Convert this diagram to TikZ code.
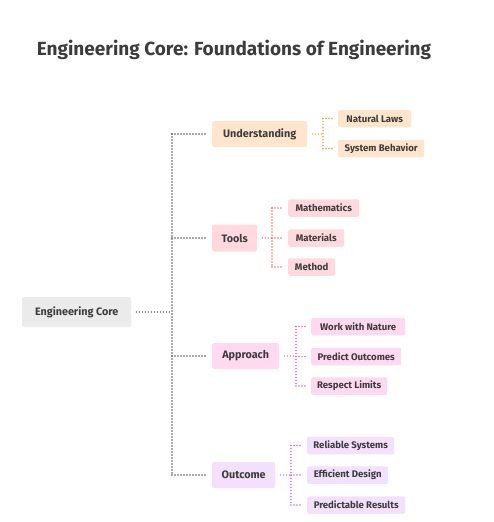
\documentclass[tikz,border=0pt]{standalone}
\usepackage{fontspec}
\setmainfont{Fira Sans}
\definecolor{txt}{HTML}{3C3C3C}
\definecolor{rootfill}{HTML}{EBEBEB}
\definecolor{trunkc}{HTML}{555555}
\definecolor{uf}{HTML}{FFE5CC}\definecolor{ud}{HTML}{F5A040}
\definecolor{tf}{HTML}{FFD9DD}\definecolor{td}{HTML}{F07070}
\definecolor{af}{HTML}{FFD9F0}\definecolor{ad}{HTML}{F060D0}
\definecolor{of}{HTML}{F3E0FC}\definecolor{od}{HTML}{D070F0}
\tikzset{
  box/.style={anchor=west, rounded corners=2pt, inner sep=0pt, text=txt, font=\bfseries\fontsize{10.8}{12}\selectfont},
  rootbox/.style={box, fill=rootfill, minimum height=30pt},
  branchbox/.style={box, minimum height=26pt},
  leafbox/.style={box, minimum height=17.5pt, font=\bfseries\fontsize{9.6}{11}\selectfont},
  dots/.style={line width=1.6pt, line cap=round, dash pattern=on 0pt off 3pt},
}
\begin{document}
\begin{tikzpicture}[x=1pt,y=-1pt]
\useasboundingbox (0,0) rectangle (494,522);
\node[text=txt, font=\bfseries\fontsize{19}{21}\selectfont] (title) at (234,50) {Engineering Core: Foundations of Engineering};

\node[rootbox, minimum width=109pt] (root) at (22,312) {Engineering Core};
\coordinate (trunk) at (172,312);

\node[branchbox, fill=uf, minimum width=95pt] (und) at (212,134) {Understanding};
\node[branchbox, fill=tf, minimum width=45pt, minimum height=27pt] (tools) at (212,238) {Tools};
\node[branchbox, fill=af, minimum width=67pt] (appr) at (212,356) {Approach};
\node[branchbox, fill=of, minimum width=63pt] (outc) at (212,475) {Outcome};

\node[leafbox, fill=uf, minimum width=73pt] (nat) at (338,118.5) {Natural Laws};
\node[leafbox, fill=uf, minimum width=86pt] (sys) at (338,148.5) {System Behavior};
\coordinate (us) at (323,134);

\node[leafbox, fill=tf, minimum width=71pt] (math) at (288,208) {Mathematics};
\node[leafbox, fill=tf, minimum width=56pt] (mat) at (288,238) {Materials};
\node[leafbox, fill=tf, minimum width=47pt] (meth) at (288,267) {Method};
\coordinate (ts) at (272,238);

\node[leafbox, fill=af, minimum width=94pt] (work) at (311,326.5) {Work with Nature};
\node[leafbox, fill=af, minimum width=90pt] (pred) at (311,356.5) {Predict Outcomes};
\node[leafbox, fill=af, minimum width=76pt] (resp) at (311,386) {Respect Limits};
\coordinate (as) at (296,356);

\node[leafbox, fill=of, minimum width=87pt] (rel) at (307,445.5) {Reliable Systems};
\node[leafbox, fill=of, minimum width=81pt] (eff) at (307,475) {Efficient Design};
\node[leafbox, fill=of, minimum width=98pt] (predr) at (307,505) {Predictable Results};
\coordinate (os) at (291,475);

% main trunk
\draw[dots, trunkc, shorten <=5pt] (root.east) -- (trunk);
\draw[dots, trunkc] (und.west -| trunk) -- (outc.west -| trunk);
\foreach \b in {und,tools,appr,outc}
  \draw[dots, trunkc, shorten >=5pt] (\b.west -| trunk) -- (\b.west);

% sub trees
\foreach \b/\s/\c/\f/\l in {und/us/ud/nat/sys, tools/ts/td/math/meth, appr/as/ad/work/resp, outc/os/od/rel/predr}{
  \draw[dots, \c, shorten <=5pt] (\b.east) -- (\s);
  \draw[dots, \c] (\f.west -| \s) -- (\l.west -| \s);
}
\foreach \s/\c/\n in {us/ud/nat, us/ud/sys, ts/td/math, ts/td/mat, ts/td/meth, as/ad/work, as/ad/pred, as/ad/resp, os/od/rel, os/od/eff, os/od/predr}
  \draw[dots, \c, shorten >=5pt] (\n.west -| \s) -- (\n.west);
\end{tikzpicture}
\end{document}
